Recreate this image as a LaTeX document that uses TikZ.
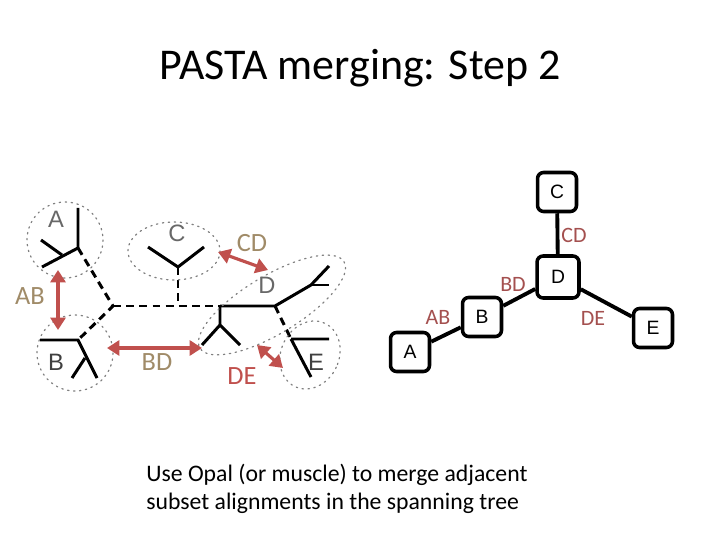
\documentclass[tikz,border=0pt]{standalone}
\usepackage{fontspec}
\setmainfont{Carlito}
\newfontfamily\leaffont{Liberation Sans}
\usetikzlibrary{arrows.meta}

\definecolor{arrowred}{HTML}{C0504D}
\definecolor{tanlabel}{HTML}{A08B68}
\definecolor{edgered}{HTML}{A4504F}
\definecolor{leafgray}{HTML}{686868}
\definecolor{leafdark}{HTML}{404040}

\tikzset{
  branch/.style={line width=1.7pt},
  hidden/.style={branch, dash pattern=on 4.5pt off 3pt},
  subset/.style={draw=gray, line width=0.7pt, dash pattern=on 0.8pt off 2.6pt, line cap=round},
  merge/.style={draw=arrowred, line width=1.8pt,
    {Triangle[length=7pt,width=8.5pt]}-{Triangle[length=7pt,width=8.5pt]}},
  leaf/.style={text=leafgray, font=\leaffont\fontsize{13.5}{15}\selectfont, inner sep=0pt},
  pair/.style={text=tanlabel, font=\fontsize{15}{17}\selectfont, inner sep=0pt},
  seqbox/.style={draw, line width=2pt, rounded corners=3.5pt, minimum size=0.78cm,
    inner sep=0pt, font=\leaffont\fontsize{11}{13}\selectfont},
  link/.style={line width=2.2pt},
  edgelab/.style={text=edgered, font=\fontsize{12.5}{14}\selectfont, inner sep=0pt}
}

\begin{document}
\begin{tikzpicture}[x=0.02cm,y=-0.02cm]
\useasboundingbox (0,0) rectangle (720,540);

\node (title) at (360,68) {\fontsize{25}{28}\selectfont PASTA merging: Step 2};

% left: tree cut into subsets
\coordinate (ajoin) at (78,248);
\coordinate (bjoin) at (78,340);
\coordinate (cjoin) at (178,267);
\coordinate (croot) at (178,306);
\coordinate (mid) at (113,306);
\coordinate (djoin) at (220,306);
\coordinate (dfork) at (220,325);
\coordinate (dknee) at (275,306);
\coordinate (dtop) at (311,285);
\coordinate (ejoin) at (291,339);

\draw [branch] (78,208) -- (ajoin) -- (42,267);
\draw [branch] (41,240) -- (62,255);
\draw [branch] (40,340) -- (bjoin) -- (97,378);
\draw [branch] (72,378) -- (85,358);
\draw [branch] (148,247) -- (cjoin) -- (204,247);
\draw [branch] (djoin) -- (dknee) -- (dtop) -- (329,266);
\draw [branch] (dtop) -- (329,285);
\draw [branch] (djoin) -- (dfork)
(202,345) -- (dfork) -- (240,345);
\draw [branch] (ejoin) -- (329,339)
(ejoin) -- (311,377);

\draw [hidden] (ajoin) -- (mid) -- (bjoin);
\draw [hidden] (mid) -- (djoin);
\draw [hidden] (cjoin) -- (croot);
\draw [hidden] (dknee) -- (ejoin);

\draw [subset] (65,240) circle [radius=38];
\draw [subset] (75,353) circle [radius=38];
\draw [subset] (174,251) ellipse [x radius=46, y radius=29];
\draw [subset, rotate around={31:(272,305)}] (272,305) ellipse [x radius=84, y radius=29];
\draw [subset, rotate around={-25:(310,355)}] (310,355) ellipse [x radius=29, y radius=35];

\node [leaf] (lA) at (56,219) {A};
\node [leaf, text=leafdark] (lB) at (56,362) {B};
\node [leaf] (lC) at (177,233) {C};
\node [leaf] (lD) at (267,285) {D};
\node [leaf, text=leafdark] (lE) at (316,362) {E};

\coordinate (abtop) at (58,270);
\coordinate (abbot) at (58,330);
\coordinate (bdl) at (107,348);
\coordinate (bdr) at (202,348);
\coordinate (cdl) at (218,252);
\coordinate (cdr) at (268,270);
\coordinate (del) at (257,345);
\coordinate (der) at (283,368);
\draw [merge] (abtop) -- (abbot);
\draw [merge] (bdl) -- (bdr);
\draw [merge] (cdl) -- (cdr);
\draw [merge] (del) -- (der);

\node [pair] (pAB) at (30,296) {AB};
\node [pair] (pBD) at (157,362) {BD};
\node [pair] (pCD) at (252,243) {CD};
\node [pair, text=arrowred] (pDE) at (242,376) {DE};

% right: spanning tree
\node [seqbox] (C) at (557,192) {C};
\node [seqbox, minimum size=0.84cm] (D) at (558,277) {D};
\node [seqbox] (B) at (482,317) {B};
\node [seqbox] (A) at (410,352) {A};
\node [seqbox] (E) at (653,328) {E};
\draw [link] (C) -- (D);
\draw [link] (D) -- (B);
\draw [link] (B) -- (A);
\draw [link] (D) -- (E);
\node [edgelab] (eCD) at (574,235) {CD};
\node [edgelab] (eBD) at (513,284) {BD};
\node [edgelab] (eAB) at (438,317) {AB};
\node [edgelab] (eDE) at (593,318) {DE};

\node [anchor=west, align=left, inner sep=0pt, font=\fontsize{13.5}{15.9}\selectfont] (note) at (146,489)
{Use Opal (or muscle) to merge adjacent\\subset alignments in the spanning tree};
\end{tikzpicture}
\end{document}
